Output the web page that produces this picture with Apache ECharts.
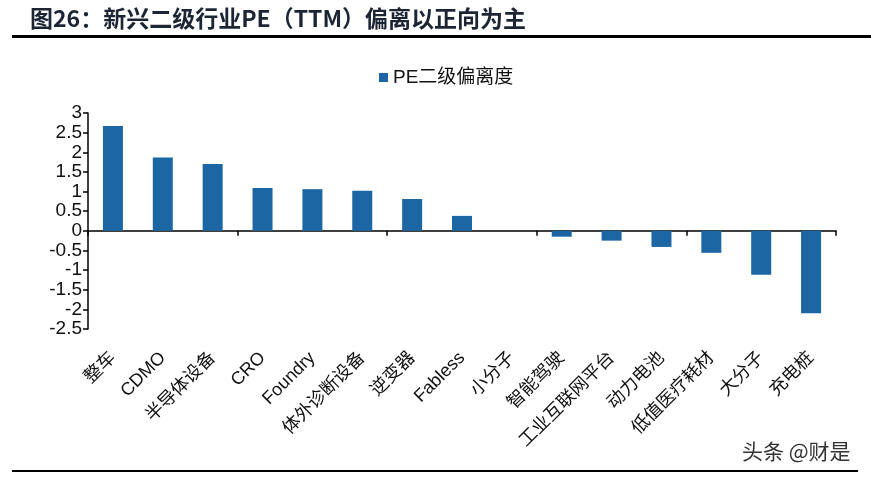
<!DOCTYPE html>
<html>
<head>
<meta charset="utf-8">
<script src="https://cdn.jsdelivr.net/npm/echarts@6/dist/echarts.min.js"></script>
<style>
  html, body { margin: 0; padding: 0; background: #fff; }
  #chart { width: 871px; height: 477px; }
</style>
</head>
<body>
<div id="chart"></div>
<script>
const titleText = "图26：新兴二级行业PE（TTM）偏离以正向为主";
const seriesName = "PE二级偏离度";
const categories = ["整车", "CDMO", "半导体设备", "CRO", "Foundry", "体外诊断设备", "逆变器", "Fabless",
    "小分子", "智能驾驶", "工业互联网平台", "动力电池", "低值医疗耗材", "大分子", "充电桩"];
const deviation = [2.67, 1.87, 1.70, 1.09, 1.06, 1.02, 0.81, 0.38, 0, -0.15, -0.25, -0.41, -0.56, -1.12, -2.10];
const yMin = -2.5, yMax = 3, yStep = 0.5;

const font = '"Liberation Sans", "Noto Sans CJK SC", sans-serif';
const barColor = "#1b66a3";

const chart = echarts.init(document.getElementById("chart"));
chart.setOption({
    animation: false,
    title: {
        text: titleText,
        left: 25, top: 2,
        textStyle: { fontSize: 23, fontWeight: "bold", color: "#1c2534", fontFamily: '"Noto Sans CJK SC", sans-serif' }
    },
    legend: {
        data: [seriesName],
        left: 374, top: 63,
        icon: "rect", itemWidth: 9, itemHeight: 9,
        textStyle: { fontSize: 19, color: "#111", fontFamily: font }
    },
    grid: { left: 88, right: 35, top: 113, bottom: 148 },
    xAxis: [
        {
            // labels sit below the plot, like the Excel original
            type: "category", data: categories, position: "bottom",
            axisLine: { show: false, onZero: false }, axisTick: { show: false },
            axisLabel: { rotate: 45, margin: 26, interval: 0, fontSize: 18, color: "#111", fontFamily: font }
        },
        {
            type: "category", data: categories, position: "bottom",
            axisLine: { onZero: true, lineStyle: { color: "#000", width: 1.5 } },
            axisTick: { show: true, length: 5, lineStyle: { color: "#000", width: 1.5 } },
            axisLabel: { show: false }
        }
    ],
    yAxis: {
        type: "value", min: yMin, max: yMax, interval: yStep,
        axisLine: { show: true, lineStyle: { color: "#000", width: 1.5 } },
        axisTick: { show: true, length: 5, lineStyle: { color: "#000", width: 1.5 } },
        splitLine: { show: false },
        axisLabel: { margin: 6, fontSize: 19, lineHeight: 14, minMargin: 0, color: "#111", fontFamily: font,
            showMinLabel: true, showMaxLabel: true, hideOverlap: false }
    },
    series: [{
        name: seriesName, type: "bar", xAxisIndex: 0,
        data: deviation, barWidth: 20,
        itemStyle: { color: barColor }
    }],
    graphic: [
        { type: "line", shape: { x1: 12, y1: 36.5, x2: 871, y2: 36.5 }, style: { stroke: "#000", lineWidth: 3 } },
        { type: "line", shape: { x1: 12, y1: 471, x2: 858, y2: 471 }, style: { stroke: "#000", lineWidth: 2 } },
        {
            type: "text", left: 742, top: 441,
            style: { text: "头条 @财是", fontSize: 21, fill: "#333", fontFamily: '"Noto Sans CJK SC", sans-serif' }
        }
    ]
});
</script>
</body>
</html>
